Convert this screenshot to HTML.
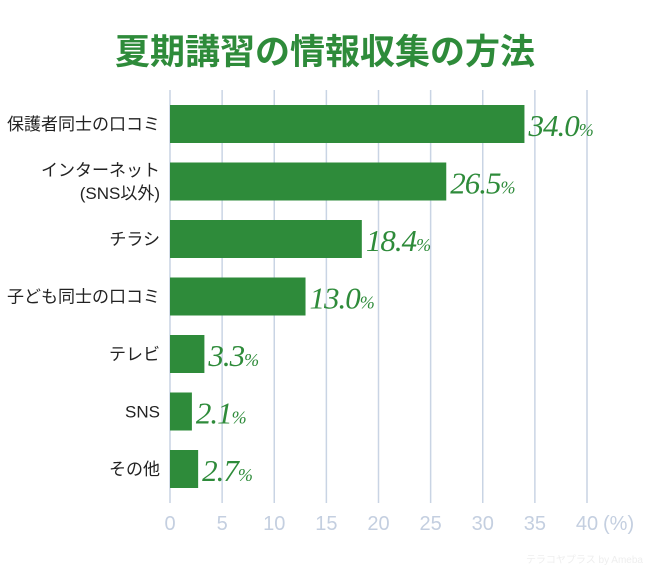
<!DOCTYPE html>
<html><head><meta charset="utf-8"><style>
body{margin:0;background:#fff;width:650px;height:575px;overflow:hidden}
</style></head><body>
<svg id="chart" width="650" height="575" xmlns="http://www.w3.org/2000/svg">
<text x="325" y="64" text-anchor="middle" font-family="'Liberation Sans','Noto Sans CJK JP',sans-serif" font-weight="bold" font-size="35" fill="#2e8b3a">夏期講習の情報収集の方法</text>
<g id="grid"></g><g id="bars"></g><g id="labels"></g>
<text x="643" y="563" text-anchor="end" font-family="'Liberation Sans','Noto Sans CJK JP',sans-serif" font-size="10" fill="#eeeeee">テラコヤプラス by Ameba</text>
</svg>
<script>
const categories=[["保護者同士の口コミ"],["インターネット","(SNS以外)"],["チラシ"],["子ども同士の口コミ"],["テレビ"],["SNS"],["その他"]];
const values=[34.0,26.5,18.4,13.0,3.3,2.1,2.7];
const ticks=[0,5,10,15,20,25,30,35,40];
const NS="http://www.w3.org/2000/svg";
const x0=170,x1=587,vmax=40;
const xs=v=>x0+(x1-x0)*v/vmax;
const bandTop=105,bandStep=57.5,barH=38;
const ys=i=>bandTop+i*bandStep;
function mk(t,a,p){const e=document.createElementNS(NS,t);for(const k in a)e.setAttribute(k,a[k]);p.appendChild(e);return e;}
const grid=document.getElementById('grid'),bars=document.getElementById('bars'),labels=document.getElementById('labels');
const F="'Liberation Sans','Noto Sans CJK JP',sans-serif";
ticks.forEach((t,i)=>{
 const l=mk('line',{x1:xs(t),x2:xs(t),y1:90,y2:503,stroke:'#c9d4e4','stroke-width':1.5},grid);
 
 
 const tx=mk('text',{x:xs(t),y:530,'text-anchor':'middle','font-family':F,'font-size':20,fill:'#c4cfe0'},grid);
 
 
 tx.textContent=t;
 if(i===ticks.length-1){const u=mk('text',{x:xs(t)+16,y:530,'font-family':F,'font-size':20,fill:'#c4cfe0'},grid);
 
 
 u.textContent='(%)';}
});
values.forEach((v,i)=>{
 const y=ys(i);
 const r=mk('rect',{x:x0,y:y,width:xs(v)-x0,height:barH,fill:'#2e8b3a'},bars);
 
 
 const vt=mk('text',{x:xs(v)+4,y:y+31,'font-family':"'Liberation Serif',serif",'font-style':'italic','font-size':31,fill:'#2e8b3a','letter-spacing':'-1'},labels);
 
 
 vt.textContent=v.toFixed(1);
 const pc=mk('tspan',{'font-size':18},vt);pc.textContent='%';
 const lines=categories[i];
 lines.forEach((s,j)=>{
  const c=mk('text',{x:160,y:y+19+6+(j-(lines.length-1)/2)*23,'text-anchor':'end','font-family':F,'font-size':17,fill:'#222'},labels);
  
  
  c.textContent=s;
 });
});
</script>
</body></html>
